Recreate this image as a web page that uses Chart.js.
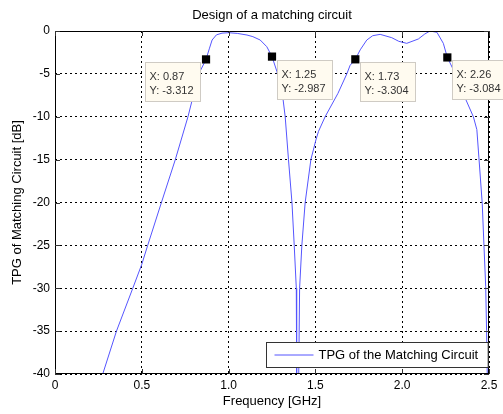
<!DOCTYPE html>
<html>
<head>
<meta charset="utf-8">
<script src="https://cdn.jsdelivr.net/npm/chart.js@4/dist/chart.umd.min.js"></script>
<style>
  body { margin: 0; background: #fff; }
  #wrap { width: 503px; height: 414px; position: relative; }
</style>
</head>
<body>
<div id="wrap"><canvas id="tpg-chart"></canvas></div>
<script>
// frequency [GHz] and transducer power gain [dB]
const freq = [0.26, 0.275, 0.354, 0.448, 0.5, 0.534, 0.613, 0.693, 0.766, 0.828, 0.87, 0.89, 0.905, 0.93, 0.962,
  1.0, 1.05, 1.106, 1.14, 1.182, 1.22, 1.25, 1.278, 1.313, 1.326, 1.345, 1.365, 1.378, 1.39, 1.392, 1.398,
  1.404, 1.409, 1.422, 1.441, 1.474, 1.503, 1.518, 1.556, 1.63, 1.681, 1.70, 1.73, 1.758, 1.796, 1.83, 1.873,
  1.94, 1.98, 2.026, 2.093, 2.13, 2.16, 2.2, 2.237, 2.26, 2.304, 2.36, 2.41, 2.43, 2.442, 2.461, 2.471,
  2.481, 2.486, 2.49, 2.5];
const tpg = [-42, -40, -35, -30, -27.2, -25, -20, -15, -10, -5, -3.312, -2.0, -1.05, -0.45, -0.25,
  -0.2, -0.28, -0.47, -0.66, -1.05, -1.83, -2.987, -4.7, -7.85, -10, -15, -20, -25, -30, -40, -60,
  -40, -30, -25, -20, -15, -12.7, -11.7, -10, -7.27, -5.0, -4.0, -3.304, -2.2, -1.05, -0.55, -0.39,
  -0.78, -1.2, -1.44, -0.93, -0.35, 0, -0.15, -1.44, -3.084, -4.9, -7.7, -10, -11.5, -14.8, -20.1, -25,
  -29.8, -34.9, -40, -55];

// data tips
const tipX = [0.87, 1.25, 1.73, 2.26];
const tipY = [-3.312, -2.987, -3.304, -3.084];
const tipSide = ["left", "right", "right", "right"];

const xTicks = [0, 0.5, 1, 1.5, 2, 2.5];
const yTicks = [-40, -35, -30, -25, -20, -15, -10, -5, 0];

const titleText = "Design of a matching circuit";
const lineColor = "rgb(85,85,255)";
const fontName = "'Liberation Sans', Arial, sans-serif";

const canvas = document.querySelector("#tpg-chart");

// title, box frame with inward ticks, data tips, legend
const matlabLook = {
  id: "matlabLook",
  afterDraw(chart) {
    const { ctx, chartArea: a, scales } = chart;
    ctx.save();

    // title
    ctx.fillStyle = "#000";
    ctx.font = "13px " + fontName;
    ctx.textAlign = "center";
    ctx.textBaseline = "middle";
    ctx.fillText(titleText, (a.left + a.right) / 2, 15);

    // frame
    ctx.strokeStyle = "#000";
    ctx.lineWidth = 1;
    ctx.setLineDash([]);
    ctx.strokeRect(Math.round(a.left) + 0.5, Math.round(a.top) + 0.5,
      Math.round(a.right - a.left) - 1, Math.round(a.bottom - a.top) - 1);

    // inward tick marks
    ctx.strokeStyle = "#333";
    ctx.beginPath();
    xTicks.forEach((v) => {
      const px = Math.round(scales.x.getPixelForValue(v)) + 0.5;
      ctx.moveTo(px, a.bottom); ctx.lineTo(px, a.bottom - 5);
      ctx.moveTo(px, a.top); ctx.lineTo(px, a.top + 5);
    });
    yTicks.forEach((v) => {
      const py = Math.round(scales.y.getPixelForValue(v)) + 0.5;
      ctx.moveTo(a.left, py); ctx.lineTo(a.left + 5, py);
      ctx.moveTo(a.right, py); ctx.lineTo(a.right - 5, py);
    });
    ctx.stroke();

    // data tip boxes
    ctx.font = "11px " + fontName;
    ctx.textAlign = "left";
    ctx.textBaseline = "middle";
    tipX.forEach((xv, i) => {
      const mx = scales.x.getPixelForValue(xv);
      const my = scales.y.getPixelForValue(tipY[i]);
      const l1 = "X: " + xv;
      const l2 = "Y: " + tipY[i];
      const w = Math.ceil(Math.max(ctx.measureText(l1).width, ctx.measureText(l2).width)) + 10;
      const h = 39;
      const bx = Math.round(tipSide[i] === "left" ? mx - 6 - w : mx + 5) + 0.5;
      const by = Math.round(my + 3) + 0.5;
      ctx.fillStyle = "#fffbf0";
      ctx.fillRect(bx, by, w, h);
      ctx.strokeStyle = "#cfcbc4";
      ctx.strokeRect(bx, by, w, h);
      ctx.fillStyle = "#333";
      ctx.fillText(l1, bx + 4, by + 14);
      ctx.fillText(l2, bx + 4, by + 28);
    });

    // legend
    const label = chart.data.datasets[0].label;
    ctx.font = "13px " + fontName;
    const tw = ctx.measureText(label).width;
    const lw = tw + 62, lh = 25;
    const lx = Math.round(a.right - 1 - lw) + 0.5, ly = Math.round(a.bottom - 7 - lh) + 0.5;
    ctx.fillStyle = "#fff";
    ctx.fillRect(lx, ly, lw, lh);
    ctx.strokeStyle = "#333";
    ctx.strokeRect(lx, ly, lw, lh);
    ctx.strokeStyle = lineColor;
    ctx.beginPath();
    ctx.moveTo(lx + 8, ly + lh / 2);
    ctx.lineTo(lx + 47, ly + lh / 2);
    ctx.stroke();
    ctx.fillStyle = "#000";
    ctx.fillText(label, lx + 52, ly + lh / 2 + 0.5);

    ctx.restore();
  },
};

const options = {
  type: "scatter",
  data: {
    datasets: [
      {
        label: "TPG of the Matching Circuit",
        data: freq.map((f, i) => ({ x: f, y: tpg[i] })),
        showLine: true,
        borderColor: lineColor,
        borderWidth: 1,
        pointRadius: 0,
        tension: 0,
        order: 2,
      },
      {
        label: "data tips",
        data: tipX.map((f, i) => ({ x: f, y: tipY[i] })),
        showLine: false,
        pointStyle: "rect",
        pointRadius: 5.8,
        backgroundColor: "#000",
        borderColor: "#000",
        borderWidth: 0,
        order: 1,
      },
    ],
  },
  options: {
    responsive: true,
    maintainAspectRatio: false,
    animation: false,
    layout: { padding: { top: 31, right: 14, left: 0, bottom: 0 } },
    plugins: {
      legend: { display: false },
      tooltip: { enabled: false },
      title: { display: false },
    },
    scales: {
      x: {
        type: "linear",
        min: 0,
        max: 2.5,
        afterBuildTicks: (s) => { s.ticks = xTicks.map((v) => ({ value: v })); },
        afterFit: (s) => { s.height = 40; },
        ticks: { color: "#000", padding: 4, maxRotation: 0, font: { family: fontName, size: 12 } },
        grid: { color: "#000", lineWidth: 1, drawTicks: false },
        border: { display: false, dash: [2, 3] },
        title: {
          display: true,
          text: "Frequency [GHz]",
          color: "#000",
          font: { family: fontName, size: 13 },
          padding: { top: 0, bottom: 5 },
        },
      },
      y: {
        type: "linear",
        min: -40,
        max: 0,
        afterBuildTicks: (s) => { s.ticks = yTicks.map((v) => ({ value: v })); },
        afterFit: (s) => { s.width = 55; },
        ticks: { color: "#000", padding: 5, font: { family: fontName, size: 12 } },
        grid: { color: "#000", lineWidth: 1, drawTicks: false },
        border: { display: false, dash: [2, 3] },
        title: {
          display: true,
          text: "TPG of Matching Circuit [dB]",
          color: "#000",
          font: { family: fontName, size: 13 },
          padding: { top: 10, bottom: 0 },
        },
      },
    },
  },
  plugins: [matlabLook],
};

const tpgChart = new Chart(canvas, options);
</script>
</body>
</html>
